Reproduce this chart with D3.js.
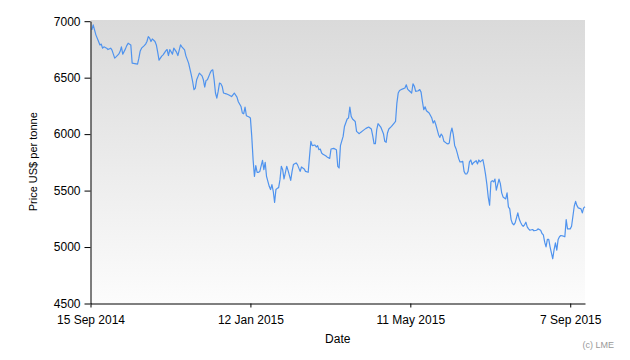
<!DOCTYPE html>
<html><head><meta charset="utf-8">
<script src="https://cdn.jsdelivr.net/npm/d3@7"></script>
<style>body{margin:0;background:#fff}svg{display:block}text{font-family:"Liberation Sans",Arial,sans-serif}</style>
</head><body><svg id="c" width="630" height="360"></svg>
<script>
const startDate = "2014-09-15";
const endDate = "2015-09-18";
const dayOffsets = [1,2,4,6,7,8,9,10,12,13,15,16,18,19,21,22,23,24,26,27,28,30,31,33,35,36,37,38,40,41,42,43,44,45,46,48,49,50,51,53,54,56,57,58,59,61,62,64,65,67,68,70,71,73,75,76,77,78,79,81,83,84,85,86,87,89,90,91,92,93,94,95,96,97,98,99,101,103,105,107,109,110,112,113,114,115,116,118,119,120,121,122,123,124,125,126,128,129,130,131,132,133,134,135,136,137,138,139,140,141,142,143,144,145,146,147,149,150,151,153,154,156,157,159,160,162,163,164,165,167,168,169,170,171,172,173,175,176,178,179,181,183,184,185,186,188,189,191,192,193,194,195,197,198,200,201,203,205,207,209,210,211,212,213,214,216,218,219,220,221,222,224,226,227,228,229,230,232,234,235,236,237,239,240,241,242,244,245,246,247,248,249,250,252,253,254,255,256,257,258,259,260,261,262,263,265,266,267,268,269,270,271,272,273,274,275,276,277,278,279,280,281,282,283,284,285,287,288,289,290,292,293,294,295,296,297,298,299,300,301,302,304,305,306,307,308,309,310,311,312,313,314,315,316,318,319,320,321,322,323,324,325,326,327,329,330,332,333,335,336,337,338,339,340,341,342,343,344,345,346,347,348,349,350,352,353,354,355,357,358,359,360,361,362,363,365,366,367,368];
const prices = [6923,6967,6879,6820,6790,6797,6761,6773,6761,6749,6761,6744,6673,6684,6708,6731,6773,6708,6755,6784,6805,6790,6629,6625,6620,6673,6737,6761,6784,6797,6820,6864,6850,6820,6843,6820,6790,6726,6655,6691,6702,6737,6749,6696,6749,6708,6761,6726,6696,6790,6773,6746,6693,6629,6525,6466,6393,6408,6481,6540,6516,6481,6417,6475,6481,6540,6563,6570,6481,6364,6319,6378,6452,6446,6422,6364,6357,6346,6333,6364,6328,6287,6245,6187,6180,6240,6163,6151,6142,5980,5774,5626,5721,5662,5662,5670,5768,5685,5750,5626,5582,5538,5509,5553,5494,5396,5509,5520,5526,5597,5715,5685,5603,5656,5715,5679,5591,5670,5730,5745,5730,5670,5709,5692,5670,5662,5803,5936,5898,5904,5886,5898,5862,5868,5833,5821,5809,5798,5785,5868,5874,5862,5715,5700,5898,5980,6068,6134,6142,6240,6157,6134,6112,6024,6004,6015,6033,6051,6063,6045,5986,5915,5915,6039,6092,6063,6004,5936,5927,6010,6045,6068,6098,6112,6275,6364,6386,6399,6408,6437,6399,6386,6364,6446,6424,6379,6384,6395,6372,6289,6216,6242,6207,6187,6165,6142,6098,6119,6083,6039,5995,5971,6001,5983,5936,5918,5913,5921,6010,6054,5995,5900,5871,5830,5783,5754,5754,5759,5670,5647,5647,5670,5754,5771,5730,5747,5765,5736,5771,5754,5774,5715,5641,5553,5441,5370,5577,5588,5577,5602,5504,5602,5562,5480,5444,5435,5426,5480,5356,5338,5243,5208,5197,5214,5303,5250,5220,5197,5184,5197,5220,5179,5161,5149,5155,5144,5149,5161,5149,5120,5108,5043,5002,5067,5067,5002,4949,4896,4978,5037,4972,5067,5091,5102,5096,5091,5243,5161,5161,5184,5273,5361,5405,5367,5347,5338,5303,5347,5356];
const yTicks = [4500,5000,5500,6000,6500,7000];
const xTickDates = ["2014-09-15","2015-01-12","2015-05-11","2015-09-07"];
const xTickLabels = ["15 Sep 2014","12 Jan 2015","11 May 2015","7 Sep 2015"];
const yTitle = "Price US$ per tonne";
const xTitle = "Date";
const credit = "(c) LME";

const parse = d3.utcParse("%Y-%m-%d");
const t0 = parse(startDate);
const data = dayOffsets.map((d,i)=>({date:d3.utcDay.offset(t0,d), v:prices[i]}));

const L=90.5, R=585, T=20, B=303.5;
const svg = d3.select("#c");
const x = d3.scaleUtc().domain([t0, parse(endDate)]).range([L,R]);
const y = d3.scaleLinear().domain([4500,7000]).range([B,21.2]);

const defs = svg.append("defs");
const g = defs.append("linearGradient").attr("id","bg").attr("x1",0).attr("y1",0).attr("x2",0).attr("y2",1);
g.append("stop").attr("offset","0%").attr("stop-color","#dadada");
g.append("stop").attr("offset","100%").attr("stop-color","#fcfcfc");
svg.append("rect").attr("x",L).attr("y",T).attr("width",R-L).attr("height",B-T).attr("fill","url(#bg)");

svg.append("path").datum(data)
  .attr("fill","none").attr("stroke","#4f93ee").attr("stroke-width",1.2).attr("stroke-linejoin","round")
  .attr("d", d3.line().x(d=>x(d.date)).y(d=>y(d.v)));

const yAxis = svg.append("g").attr("transform",`translate(${L},0)`)
  .call(d3.axisLeft(y).tickValues(yTicks).tickFormat(d3.format("d")).tickSize(6).tickSizeOuter(0).tickPadding(4));
const xAxis = svg.append("g").attr("transform",`translate(0,${B})`)
  .call(d3.axisBottom(x).tickValues(xTickDates.map(parse)).tickFormat((d,i)=>xTickLabels[i]).tickSize(4).tickSizeOuter(0).tickPadding(8));
[yAxis,xAxis].forEach(a=>{
  a.selectAll("text").attr("font-size",12).attr("fill","#000").attr("font-family","'Liberation Sans',Arial,sans-serif");
  a.selectAll("line,path").attr("stroke","#000");
});

svg.append("text").attr("x",(L+R)/2).attr("y",343).attr("text-anchor","middle").attr("font-size",12).attr("fill","#000").text(xTitle);
svg.append("text").attr("transform",`translate(37,${(T+B)/2}) rotate(-90)`).attr("text-anchor","middle").attr("font-size",11).attr("fill","#000").text(yTitle);
svg.append("text").attr("x",614).attr("y",348).attr("text-anchor","end").attr("font-size",9).attr("fill","#999").text(credit);
</script></body></html>
